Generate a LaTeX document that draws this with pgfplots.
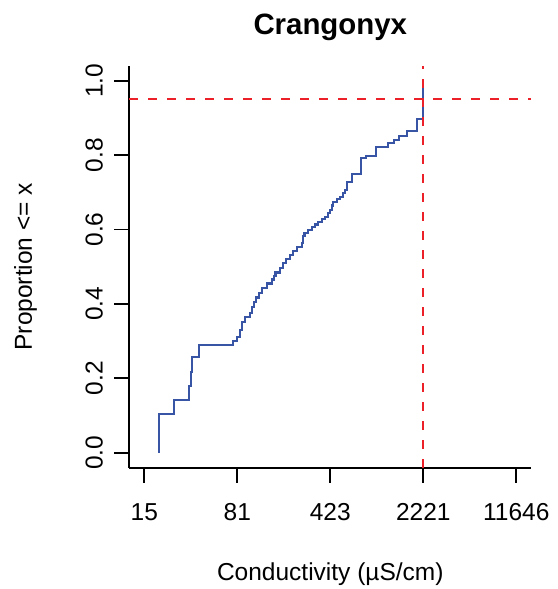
\documentclass[border=0pt]{standalone}
\usepackage{fontspec}
\setmainfont{Liberation Sans}
\usepackage{pgfplots}
\pgfplotsset{compat=1.18}

\definecolor{ecdfblue}{RGB}{56,84,164}
\definecolor{refred}{RGB}{236,32,40}

% ECDF of conductivity (x, proportion <= x)
\pgfplotstableread{
x y
20.14 0
20.14 0.104
26.17 0.1425
34.37 0.179
35.43 0.218
36.26 0.258
40.63 0.2895
74.47 0.300
80.83 0.312
84.82 0.330
87.43 0.351
92.73 0.365
101.4 0.3755
105.1 0.392
108.9 0.405
112.8 0.417
119.0 0.429
124.9 0.443
136.5 0.455
149.2 0.4656
155.5 0.475
159.7 0.4844
173.0 0.4957
183.5 0.510
192.5 0.5207
206.8 0.5315
218.1 0.542
233.0 0.553
254.7 0.563
262.1 0.5825
267.7 0.5906
286.5 0.5987
304.5 0.606
322.8 0.6134
342.3 0.621
365.7 0.628
385.8 0.6344
407.0 0.6444
421.8 0.6524
437.1 0.6645
447.3 0.6747
477.8 0.682
504.1 0.688
531.8 0.698
551.1 0.706
568.1 0.7277
621.2 0.749
729.1 0.7914
796.9 0.7976
957.6 0.8218
1186 0.8317
1320 0.8406
1443 0.8513
1664 0.8656
1999 0.8962
2221 1.0
}\ecdf

\begin{document}
\begin{tikzpicture}
\begin{axis}[
    scale only axis,
    width=401.8pt, height=401.8pt,
    xmode=log,
    xmin=11.82, xmax=15182,
    ymin=-0.04, ymax=1.04,
    axis lines*=left,
    axis line style={-, line width=1.8pt},
    every outer x axis line/.append style={-},
    every outer y axis line/.append style={-},
    tick align=outside,
    major tick length=15pt,
    tick style={line width=1.8pt, black},
    xtick={15.41,80.80,423.6,2221,11646},
    xticklabels={15,81,423,2221,11646},
    minor xtick={},
    ytick={0,0.2,0.4,0.6,0.8,1},
    yticklabels={0.0,0.2,0.4,0.6,0.8,1.0},
    ticklabel style={font=\fontsize{24.5}{29}\selectfont},
    xticklabel style={anchor=base, yshift=-37.9pt},
    yticklabel style={anchor=base, xshift=-11.9pt, rotate=90},
    xlabel={Conductivity (µS/cm)},
    ylabel={Proportion <= x},
    every axis x label/.style={font=\fontsize{24.5}{29}\selectfont, at={(rel axis cs:0.5,0)}, anchor=base, yshift=-112.9pt},
    every axis y label/.style={font=\fontsize{24.5}{29}\selectfont, at={(rel axis cs:0,0.5)}, anchor=base, xshift=-97.4pt, rotate=90},
    title={Crangonyx},
    title style={font=\bfseries\fontsize{29.4}{35}\selectfont, at={(rel axis cs:0.5,1)}, anchor=base, yshift=24.8pt},
    clip=false,
]
\addplot[const plot, color=ecdfblue, line width=2.2pt] table[x=x, y=y] {\ecdf};
\addplot[color=refred, line width=2pt, dash pattern=on 9pt off 10pt] coordinates {(11.82,0.95) (15182,0.95)};
\addplot[color=refred, line width=2pt, dash pattern=on 9pt off 10pt] coordinates {(2221,-0.04) (2221,1.04)};
\end{axis}
\path (-129.4pt,-121.4pt) rectangle (427.6pt,467.6pt);
\end{tikzpicture}
\end{document}
